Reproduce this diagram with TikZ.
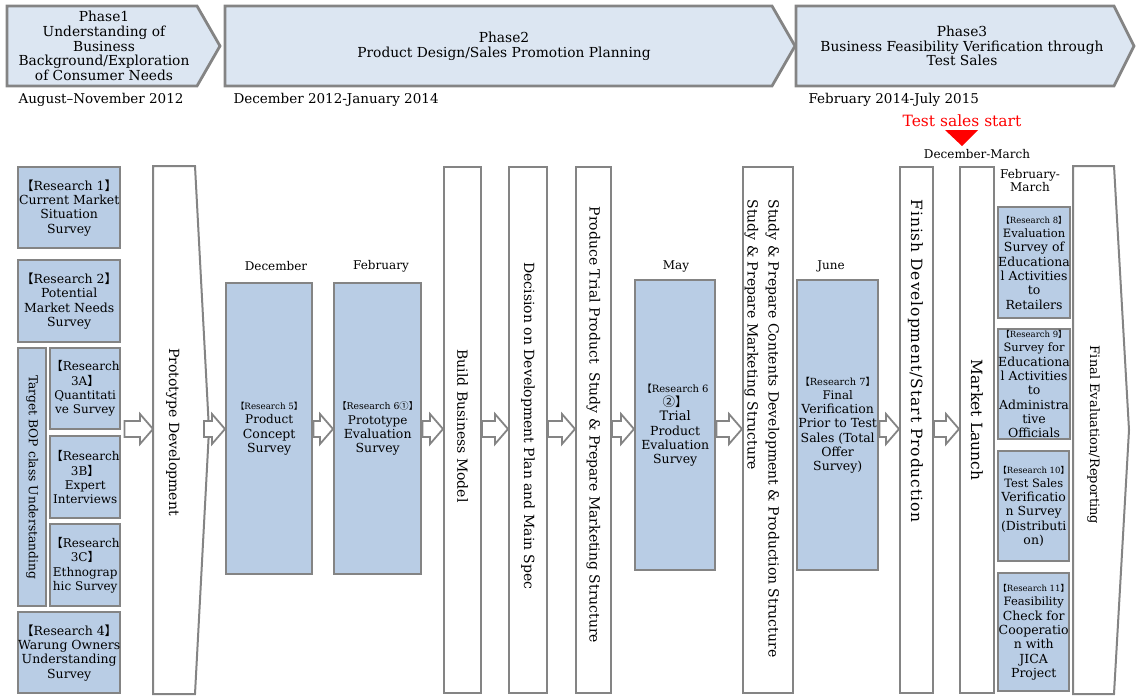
\documentclass[tikz,border=0pt]{standalone}
\usepackage{fontspec}
\setmainfont{DejaVu Serif}
\newfontfamily\cjk{Noto Sans CJK JP}
\usetikzlibrary{calc}
\definecolor{phasefill}{HTML}{DCE6F2}
\definecolor{boxfill}{HTML}{B9CDE5}
\definecolor{edgegray}{HTML}{848484}
\newcommand\rtag[1]{{\cjk 【}Research~#1{\cjk 】}}
\newcommand\fs[2]{\fontsize{#1}{#2}\selectfont}
% hollow block arrow between two named nodes, at the height of (mid)
\newcommand\flowarrow[3][0]{%
  \draw[flowarr] let \p1=($(#2.east |- mid)+(#1,0)$), \p2=(#3.west |- mid) in
    (\x1,{\y1+8pt}) -- ({\x2-13pt},{\y1+8pt}) -- ({\x2-13pt},{\y1+15pt}) -- (\x2,\y1)
    -- ({\x2-13pt},{\y1-15pt}) -- ({\x2-13pt},{\y1-8pt}) -- (\x1,{\y1-8pt}) -- cycle;}
\tikzset{
  phase/.style={draw=edgegray,fill=phasefill,line width=2.8pt,line join=miter},
  rbox/.style={draw=edgegray,fill=boxfill,line width=2.4pt,align=center,
    inner sep=0pt,anchor=north west,font=\fs{12.5}{14.3}},
  stepbox/.style={draw=edgegray,fill=white,line width=2pt,anchor=north west,
    minimum height=526,inner sep=0pt},
  vtext/.style={rotate=-90,align=center,font=\fs{14}{21}},
  flowarr/.style={draw=edgegray,fill=white,line width=1.8pt},
  month/.style={font=\fs{12}{13}},
  datetext/.style={anchor=west,font=\fs{13.5}{15}},
}
\begin{document}
\begin{tikzpicture}[x=1pt,y=-1pt]
  \useasboundingbox (0,0) rectangle (1137,696);
  \coordinate (mid) at (0,429);

  % phases
  \draw[phase] (7,6) -- (197,6) -- (220,46) -- (197,86) -- (7,86) -- cycle;
  \draw[phase] (225,6) -- (772,6) -- (795,46) -- (772,86) -- (225,86) -- cycle;
  \draw[phase] (796,6) -- (1114,6) -- (1134,46) -- (1114,86) -- (796,86) -- cycle;
  \node[align=center,font=\fs{13.8}{14.6}] (ph1) at (104,46)
    {Phase1\\Understanding of\\Business\\Background/Exploration\\of Consumer Needs};
  \node[align=center,font=\fs{13.8}{14.6}] (ph2) at (504,46)
    {Phase2\\Product Design/Sales Promotion Planning};
  \node[align=center,font=\fs{13.8}{14.6}] (ph3) at (962,46)
    {Phase3\\Business Feasibility Verification through\\Test Sales};
  \node[datetext] (date1) at (15,100) {August–November 2012};
  \node[datetext] (date2) at (230,100) {December 2012-January 2014};
  \node[datetext] (date3) at (805,100) {February 2014-July 2015};

  \node[text=red,font=\fs{15.5}{17}] (tss) at (962,121) {Test sales start};
  \fill[red] (945,130) -- (978,130) -- (962,146) -- cycle;
  \node[month] (decmar) at (977,154) {December-March};

  % research 1-4
  \node[rbox,minimum width=102,minimum height=81] (r1) at (17,166)
    {\rtag{1}\\Current Market\\Situation\\Survey};
  \node[rbox,minimum width=102,minimum height=82] (r2) at (17,259)
    {\rtag{2}\\Potential\\Market Needs\\Survey};
  \node[rbox,minimum width=28,minimum height=258] (bop) at (17,347) {};
  \node[rotate=-90,font=\fs{12.3}{13}] (boptxt) at (bop.center) {Target BOP class Understanding};
  \node[rbox,minimum width=70,minimum height=81,font=\fs{12}{14.3}] (r3a) at (49,347)
    {{\cjk 【}Research\\3A{\cjk 】}\\Quantitati\\ve Survey};
  \node[rbox,minimum width=70,minimum height=82,font=\fs{12}{14.3}] (r3b) at (49,435)
    {{\cjk 【}Research\\3B{\cjk 】}\\Expert\\Interviews};
  \node[rbox,minimum width=70,minimum height=82,font=\fs{12}{14.3}] (r3c) at (49,523)
    {{\cjk 【}Research\\3C{\cjk 】}\\Ethnograp\\hic Survey};
  \node[rbox,minimum width=102,minimum height=81] (r4) at (17,611)
    {\rtag{4}\\Warung Owners\\Understanding\\Survey};

  % prototype development
  \node[stepbox,draw=none,fill=none,minimum width=40] (proto) at (153,166) {};
  \draw[flowarr,line width=2pt] (proto.north west) -- (proto.north east) -- ($(proto.east)+(14,0)$)
    -- (proto.south east) -- (proto.south west) -- cycle;
  \node[vtext] (prototxt) at (173,432) {Prototype Development};

  % research 5 and 6
  \node[month] (dec) at (276,266) {December};
  \node[month] (feb) at (381,266) {February};
  \node[rbox,minimum width=86,minimum height=291] (r5) at (225,282)
    {\fs{8.7}{11}\rtag{5}\\\fs{12}{13}Product\\Concept\\Survey};
  \node[rbox,minimum width=87,minimum height=291] (r6a) at (333,282)
    {\fs{9.3}{11}\rtag{6{\cjk ①}}\\\fs{12}{13}Prototype\\Evaluation\\Survey};

  % steps
  \node[stepbox,minimum width=37] (build) at (443,166) {};
  \node[vtext] at ($(build.center)+(0,-4)$) {Build Business Model};
  \node[stepbox,minimum width=38] (decision) at (508,166) {};
  \node[vtext] at ($(decision.center)+(0,-4)$) {Decision on Development Plan and Main Spec};
  \node[stepbox,minimum width=35] (produce) at (575,166) {};
  \node[vtext] at ($(produce.center)+(0,-5)$) {Produce Trial Product\ \ Study \& Prepare Marketing Structure};
  \node[month] (may) at (676,266) {May};
  \node[rbox,minimum width=80,minimum height=290] (r6b) at (634,279)
    {\fs{10}{11}{\cjk 【}Research~6\\{\cjk ②】}\\\fs{13}{13.3}Trial\\Product\\Evaluation\\Survey};
  \node[stepbox,minimum width=50] (study) at (742,166) {};
  \node[vtext,anchor=west,align=left] at (762,196)
    {Study \& Prepare Contents Development \& Production Structure\\
     Study \& Prepare Marketing Structure};
  \node[month] (june) at (831,266) {June};
  \node[rbox,minimum width=81,minimum height=290] (r7) at (796,279)
    {\fs{9.8}{12}\rtag{7}\\\fs{11.8}{13.3}Final\\Verification\\Prior to Test\\Sales (Total\\Offer\\Survey)};
  \node[stepbox,minimum width=33] (finish) at (899,166) {};
  \node[vtext,anchor=west,font=\fs{15.5}{21}\addfontfeature{LetterSpace=6}] at (915.5,196)
    {Finish Development/Start Production};
  \node[stepbox,minimum width=34] (market) at (959,166) {};
  \node[vtext,font=\fs{15.5}{21}] at ($(market.center)+(0,-10)$) {Market Launch};

  % research 8-11
  \node[month,align=center] (febmar) at (1030,181) {February-\\March};
  \node[rbox,minimum width=71,minimum height=111] (r8) at (997,206)
    {\fs{8.5}{10}\rtag{8}\\\fs{11.5}{13.6}Evaluation\\Survey of\\Educationa\\l Activities\\to\\Retailers};
  \node[rbox,minimum width=71,minimum height=110] (r9) at (997,328)
    {\fs{8.5}{10}\rtag{9}\\\fs{11.5}{13.4}Survey for\\Educationa\\l Activities\\to\\Administra\\tive\\Officials};
  \node[rbox,minimum width=71,minimum height=110] (r10) at (997,450)
    {\fs{8.5}{10}\rtag{10}\\\fs{11.5}{13.6}Test Sales\\Verificatio\\n Survey\\(Distributi\\on)};
  \node[rbox,minimum width=71,minimum height=118] (r11) at (997,572)
    {\fs{8.5}{10}\rtag{11}\\\fs{11.5}{13.6}Feasibility\\Check for\\Cooperatio\\n with\\JICA\\Project};

  % final evaluation
  \node[stepbox,draw=none,fill=none,minimum width=39] (final) at (1073,166) {};
  \draw[flowarr,line width=2pt] (final.north west) -- (final.north east) -- ($(final.east)+(15,0)$)
    -- (final.south east) -- (final.south west) -- cycle;
  \node[vtext,font=\fs{13}{21}] at ($(final.center)+(0,5)$) {Final Evaluation/Reporting};

  % connectors
  \flowarrow[3]{r3a}{proto}
  \flowarrow[9]{proto}{r5}
  \flowarrow{r5}{r6a}
  \flowarrow{r6a}{build}
  \flowarrow{build}{decision}
  \flowarrow{decision}{produce}
  \flowarrow{produce}{r6b}
  \flowarrow{r6b}{study}
  \flowarrow{r7}{finish}
  \flowarrow{finish}{market}
\end{tikzpicture}
\end{document}
